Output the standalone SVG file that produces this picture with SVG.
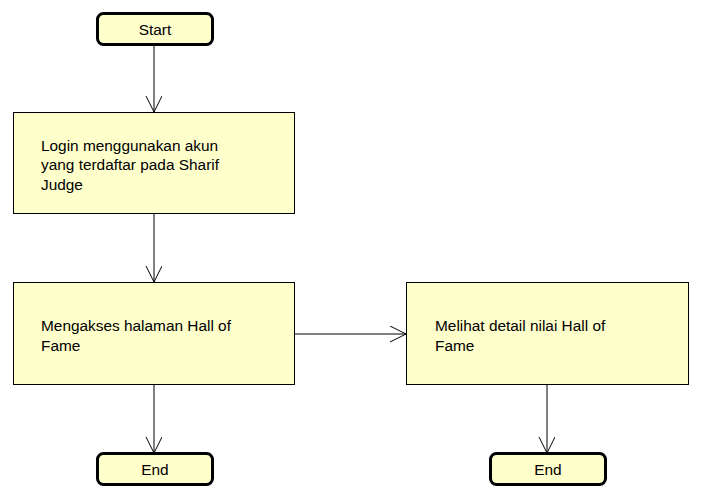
<svg xmlns="http://www.w3.org/2000/svg" width="701" height="497" viewBox="0 0 701 497">
<defs>
<style>
.term{fill:#ffffcc;stroke:#000;stroke-width:3}
.act{fill:#ffffcc;stroke:#000;stroke-width:1}
.t{font-family:"Liberation Sans",Arial,sans-serif;font-size:15.4px;fill:#000}
.c{text-anchor:middle}
.ln{fill:none;stroke:#000;stroke-width:1}
</style>
<marker id="ah" markerWidth="20" markerHeight="20" refX="16" refY="8" orient="auto" markerUnits="userSpaceOnUse">
<path d="M0,0 L16,8 L0,16" fill="none" stroke="#000" stroke-width="1"/>
</marker>
</defs>
<rect width="701" height="497" fill="#fff"/>
<g id="connectors">
<line class="ln" x1="154" y1="44" x2="154" y2="112" marker-end="url(#ah)"/>
<line class="ln" x1="154" y1="213" x2="154" y2="282" marker-end="url(#ah)"/>
<line class="ln" x1="294" y1="334" x2="406" y2="334" marker-end="url(#ah)"/>
<line class="ln" x1="154" y1="384" x2="154" y2="453" marker-end="url(#ah)"/>
<line class="ln" x1="547" y1="384" x2="547" y2="453" marker-end="url(#ah)"/>
</g>
<g id="start">
<rect class="term" x="97.5" y="13.5" width="115" height="31" rx="6"/>
<text class="t c" x="155" y="35">Start</text>
</g>
<g id="login">
<rect class="act" x="13.5" y="112.5" width="281" height="101"/>
<text class="t" x="41" y="150.5">Login menggunakan akun</text>
<text class="t" x="41" y="170">yang terdaftar pada Sharif</text>
<text class="t" x="41" y="189.5">Judge</text>
</g>
<g id="akses">
<rect class="act" x="13.5" y="282.5" width="281" height="102"/>
<text class="t" x="41" y="331">Mengakses halaman Hall of</text>
<text class="t" x="41" y="351">Fame</text>
</g>
<g id="detail">
<rect class="act" x="406.5" y="282.5" width="282" height="102"/>
<text class="t" x="435" y="331">Melihat detail nilai Hall of</text>
<text class="t" x="435" y="351">Fame</text>
</g>
<g id="end1">
<rect class="term" x="97.5" y="453.5" width="115" height="31" rx="6"/>
<text class="t c" x="155" y="475">End</text>
</g>
<g id="end2">
<rect class="term" x="490.5" y="453.5" width="115" height="31" rx="6"/>
<text class="t c" x="548" y="475">End</text>
</g>
</svg>
